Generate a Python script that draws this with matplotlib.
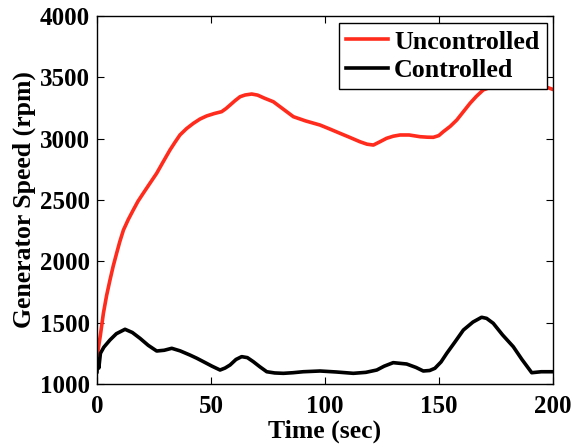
import matplotlib
matplotlib.use("Agg")
import matplotlib.pyplot as plt

# generator speed
t_unc = [0, 1.5, 2.8, 4.2, 5.7, 7.1, 8.6, 10, 11.6, 13.7, 15.9, 18, 20.3, 23, 26.2, 29, 32, 34.2,
         36.4, 39.3, 42.3, 45.2, 48.1, 51.5, 54.7, 56.6, 58.4, 60.6, 62.8, 65, 67.9, 70.5, 73.5,
         77.4, 81.8, 86.2, 91.5, 97.9, 102, 106.6, 111, 115.4, 118.5, 121.3, 124.2, 127.1,
         130, 133, 137, 141.8, 145, 147.6, 150, 152, 155, 157.9, 160.8, 163.7, 166.5, 169.5,
         175, 185, 193, 197.4, 200]
v_unc = [1220, 1400, 1576, 1720, 1848, 1960, 2065, 2160, 2255, 2340, 2418, 2490, 2555, 2630,
         2718, 2810, 2907, 2970, 3030, 3082, 3125, 3160, 3185, 3205, 3220, 3245, 3274, 3310,
         3342, 3356, 3364, 3355, 3330, 3301, 3240, 3179, 3145, 3111, 3080, 3044, 3010, 2975,
         2955, 2948, 2975, 3003, 3020, 3030, 3030, 3016, 3012, 3011, 3025, 3057, 3100, 3152,
         3220, 3288, 3345, 3397, 3435, 3450, 3440, 3419, 3402]

t_ctl = [0, 0.3, 0.8, 1.5, 3, 5.7, 8.5, 12.3, 15.5, 18.9, 22.5, 26.2, 29.5, 32.8, 36.5, 40.8,
         43.8, 46.7, 50.5, 54, 56.2, 58.4, 61, 63.5, 66, 68.6, 71.5, 74.5, 78, 81.8, 86, 90.5,
         97.9, 105, 112.5, 118, 122.8, 126, 130, 135.9, 140, 143.2, 146, 148.3, 151, 153.5,
         157, 160.8, 165, 168.8, 171, 173.9, 178, 182.7, 186.5, 190.8, 195, 200]
v_ctl = [1100, 1200, 1130, 1250, 1300, 1359, 1410, 1446, 1420, 1372, 1315, 1269, 1275, 1291,
         1270, 1236, 1210, 1182, 1145, 1114, 1130, 1155, 1200, 1223, 1215, 1182, 1140, 1100,
         1090, 1087, 1092, 1100, 1106, 1098, 1087, 1095, 1114, 1145, 1174, 1163, 1135, 1106,
         1110, 1128, 1180, 1250, 1340, 1440, 1505, 1544, 1535, 1495, 1400, 1304, 1200, 1092,
         1100, 1100]

x_ticks = [0, 50, 100, 150, 200]
y_ticks = [1000, 1500, 2000, 2500, 3000, 3500, 4000]

plt.rcParams["font.family"] = ["Liberation Serif", "DejaVu Serif"]
plt.rcParams["font.weight"] = "bold"

fig = plt.figure(figsize=(5.73, 4.46), dpi=100)
ax = fig.add_axes([97 / 573, 62 / 446, 455.7 / 573, 368 / 446])

ax.plot(t_unc, v_unc, color="#ff2b1c", linewidth=2.6, label="Uncontrolled")
ax.plot(t_ctl, v_ctl, color="black", linewidth=2.6, label="Controlled")

ax.set_xlim(0, 200)
ax.set_ylim(1000, 4000)
ax.set_xticks(x_ticks)
ax.set_yticks(y_ticks)
ax.tick_params(direction="in", top=True, right=True, length=5, width=0.8,
               labelsize=18)
ax.tick_params(axis="x", pad=8)
ax.tick_params(axis="y", pad=5)
for lab in ax.get_xticklabels() + ax.get_yticklabels():
    lab.set_fontweight("bold")
for sp in ax.spines.values():
    sp.set_linewidth(1.0)

ax.set_xlabel("Time (sec)", fontsize=18.5, fontweight="bold", labelpad=1)
ax.set_ylabel("Generator Speed (rpm)", fontsize=18.5, fontweight="bold", labelpad=3)

leg = ax.legend(loc="upper right", bbox_to_anchor=(0.9865, 0.98), fontsize=18.7,
                frameon=True, fancybox=False, framealpha=1, borderpad=0.27,
                handlelength=1.6, handletextpad=0.25, labelspacing=0.2,
                borderaxespad=0)
leg.get_frame().set_edgecolor("black")
leg.get_frame().set_linewidth(1.0)
for txt in leg.get_texts():
    txt.set_fontweight("bold")

fig.savefig("out.png", dpi=100)
